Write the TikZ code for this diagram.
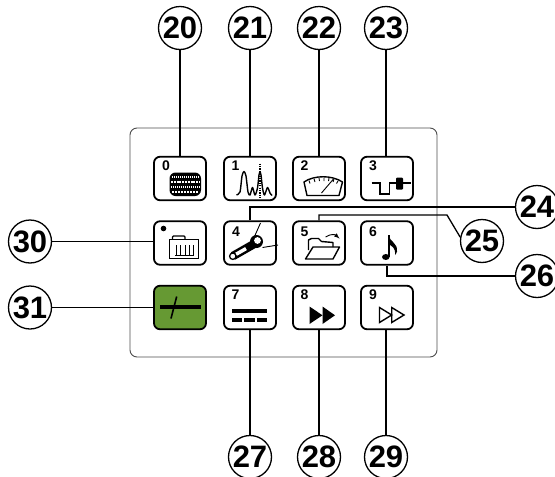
\documentclass[tikz,border=0pt]{standalone}
\usepackage{fontspec}
\setmainfont{Liberation Sans}
\definecolor{btngreen}{HTML}{669933}
\tikzset{
	callout/.style={draw, circle, line width=1.3pt, minimum size=43pt, inner sep=0pt, font=\fontsize{31}{31}\selectfont\bfseries},
	btn/.style={draw, rounded corners=6pt, line width=1.8pt, minimum width=52pt, minimum height=43.5pt, inner sep=0pt, fill=white},
	btnnum/.style={inner sep=0pt, font=\fontsize{14}{14}\selectfont\bfseries},
	lead/.style={line width=1.3pt},
	thinline/.style={line width=0.9pt},
	icon/.style={line width=1.4pt}
}
\begin{document}
\begin{tikzpicture}[x=1pt,y=-1pt]
	\useasboundingbox (0,0) rectangle (555,477);
	
	%Panel
	\node[draw, rounded corners=7pt, line width=0.9pt, black!70, minimum width=307pt, minimum height=229pt, inner sep=0pt] (panel) at (283.5,242.5) {};
	
	%Buttons
	\node[btn] (b0) at (180,178.5) {};
	\node[btn] (b1) at (250,178.5) {};
	\node[btn] (b2) at (319,178.5) {};
	\node[btn] (b3) at (387,178.5) {};
	\node[btn] (b30) at (180,243) {};
	\node[btn] (b4) at (250,243) {};
	\node[btn] (b5) at (319,243) {};
	\node[btn] (b6) at (387,243) {};
	\node[btn, fill=btngreen] (b31) at (180,307.5) {};
	\node[btn] (b7) at (250,307.5) {};
	\node[btn] (b8) at (319,307.5) {};
	\node[btn] (b9) at (387,307.5) {};
	
	%Button digits
	\node[btnnum] (n0) at (166,166) {0};
	\node[btnnum] (n1) at (235.5,166) {1};
	\node[btnnum] (n2) at (304.5,166) {2};
	\node[btnnum] (n3) at (373,166) {3};
	\node[btnnum] (n4) at (236,231.5) {4};
	\node[btnnum] (n5) at (304.5,231.5) {5};
	\node[btnnum] (n6) at (373,231.5) {6};
	\node[btnnum] (n7) at (235.5,295) {7};
	\node[btnnum] (n8) at (304.5,295) {8};
	\node[btnnum] (n9) at (373,295) {9};
	
	%Callouts
	\node[callout] (c20) at (180,28) {20};
	\node[callout] (c21) at (250,28) {21};
	\node[callout] (c22) at (319,28) {22};
	\node[callout] (c23) at (386,28) {23};
	\node[callout] (c24) at (537,207) {24};
	\node[callout] (c25) at (482,241) {25};
	\node[callout] (c26) at (537,276) {26};
	\node[callout] (c27) at (250,457) {27};
	\node[callout] (c28) at (319,457) {28};
	\node[callout] (c29) at (386,457) {29};
	\node[callout] (c30) at (30,241.5) {30};
	\node[callout] (c31) at (30,307.5) {31};
	
	%Leaders
	\draw[lead] (c20.south) -- (b0.north);
	\draw[lead] (c21.south) -- (b1.north);
	\draw[lead] (c22.south) -- (b2.north);
	\draw[lead] (c23.south) -- (c23.south |- b3.north);
	\draw[lead] (b4.north) |- (c24.west);
	\coordinate (bend25) at (447,215);
	\draw[lead] (b5.north) |- (bend25) -- (c25.170);
	\draw[lead] (b6.south) |- (c26.west);
	\draw[lead] (b7.south) -- (c27.north);
	\draw[lead] (b8.south) -- (c28.north);
	\draw[lead] (c29.north |- b9.south) -- (c29.north);
	\draw[lead] (c30.east) -- (c30.east -| b30.west);
	\draw[lead] (c31.east) -- (b31.west);
	
	%Icon 0, screen
	\fill[rounded corners=6pt] (169.5,172.5) rectangle (201,196);
	\draw[white, line width=1.1pt, dash pattern=on 1.2pt off 0.8pt] (172,177) -- (198.5,177);
	\draw[white, line width=1.1pt, dash pattern=on 2pt off 0.8pt] (171,182) -- (199.5,182);
	\draw[white, line width=1.1pt, dash pattern=on 1.2pt off 0.8pt] (171,187) -- (199.5,187);
	\draw[white, line width=1.1pt, dash pattern=on 2pt off 1pt] (172,192) -- (198.5,192);
	
	%Icon 1, spectrum
	\draw[icon, line join=round] plot[smooth, tension=0.45] coordinates {(236.5,195) (240,192) (242,176) (244,171.5) (246,176) (248,192) (250,195) (252.5,187.5) (255,195) (257.5,188) (259,175) (260,172) (261,175) (262.5,188) (264.5,195) (267.5,187.5) (270,193) (272,195.5)};
	\draw[line width=1.3pt, dash pattern=on 1.2pt off 1.2pt] (260,163.5) -- (260,198.5);
	
	%Icon 2, gauge
	\draw[icon, line join=round] (304,182) .. controls (314,175) and (332,175) .. (342.5,182) -- (339,195.5) -- (307,195.5) -- cycle;
	\draw[thinline] (309,180.5) -- (310,183.5) (314,178.8) -- (315,182) (319,178) -- (319.5,181) (324,177.8) -- (324,181) (329,178.2) -- (328.5,181) (334,179.3) -- (333,182) (338,181) -- (336.5,183.5);
	\draw[thinline] (321.5,193) -- (333.5,179);
	
	%Icon 3, pulse
	\draw[icon] (371.5,183) -- (380,183) -- (380,194) -- (389.5,194) -- (389.5,183) -- (411,183);
	\fill[rounded corners=1pt] (396,177.5) rectangle (403,189.5);
	
	%Icon 30, case
	\fill (163.5,228.5) circle (2.8pt);
	\draw[line width=1.7pt] (169.5,239.5) rectangle (198.5,258.5);
	\draw[line width=1.4pt, rounded corners=1pt] (172.5,239.5) -- (172.5,236) -- (185,236) -- (185,239.5);
	\draw[thinline] (175,255) -- (194,255);
	\draw[thinline] (176.7,255) -- (176.7,245) (180.8,255) -- (180.8,245) (185,255) -- (185,245) (189.2,255) -- (189.2,245) (193.3,255) -- (193.3,245);
	
	%Icon 4, microphone
	\draw[thinline] (260.5,223) -- (254.5,236.5);
	\draw[thinline] (262.5,247.5) -- (278,245);
	\draw[line width=8.5pt] (233,256) -- (254,244);
	\draw[white, line width=3.5pt] (236,254.3) -- (246,248.6);
	\fill (256.5,241.5) circle (6.5pt);
	\fill[white] (257.5,240.5) circle (3.4pt);
	\draw[fill=white, line width=1.3pt] (232.8,256.2) circle (3.2pt);
	
	%Icon 5, folder
	\draw[icon, line join=round] (308.5,250) -- (308.5,240) -- (311.5,238.5) -- (318.5,238.5) -- (321.5,241.5) -- (333,242.5) -- (333,247);
	\draw[icon, line join=round] (305.5,259) -- (313,247) -- (339.5,247) -- (333,259) -- cycle;
	\draw[thinline, -latex] (325.5,237) .. controls (331,233.5) and (335,234.5) .. (339.5,238.5);
	
	%Icon 6, note
	\fill (385.8,257) ellipse (3.8pt and 3pt);
	\draw[line width=1.5pt] (388.8,256.5) -- (388.8,235);
	\fill (388.2,235) .. controls (390,242) and (398,243) .. (397,251.5) .. controls (397,253) and (395.5,254) .. (395,255) .. controls (395.8,248) and (392,246) .. (388.2,244) -- cycle;
	
	%Icon 31, line
	\fill (160,305.3) rectangle (201,309.3);
	\draw[line width=1.6pt] (176.7,296.5) -- (171,318.5);
	
	%Icon 7, bars
	\fill (231.7,309) rectangle (267.3,313);
	\fill (231.7,318) rectangle (241.7,322);
	\fill (244.3,318) rectangle (254.5,322);
	\fill (257,318) rectangle (267.3,322);
	
	%Icon 8, solid arrows
	\fill (309.5,306.5) -- (322.5,315.3) -- (309.5,324) -- cycle;
	\fill (322.5,306.5) -- (335,315.3) -- (322.5,324) -- cycle;
	
	%Icon 9, open arrows
	\draw[icon, line join=miter] (379.5,307.5) -- (391.7,315) -- (379.5,322.5) -- cycle;
	\draw[icon, line join=miter] (391.7,307.5) -- (404,315) -- (391.7,322.5) -- cycle;
\end{tikzpicture}
\end{document}
